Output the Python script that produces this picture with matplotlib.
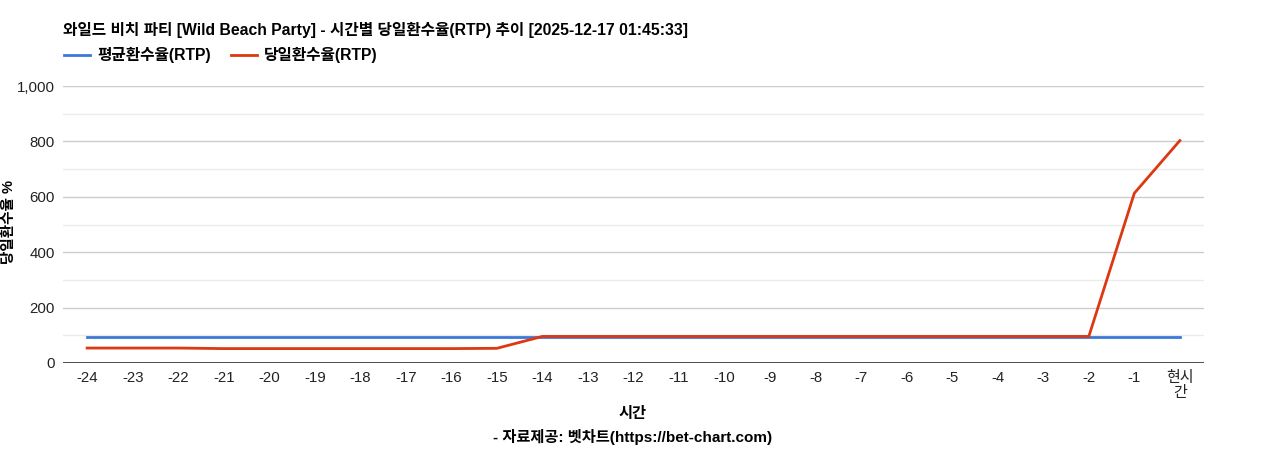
import numpy as np
import matplotlib.pyplot as plt
from matplotlib.ticker import FuncFormatter, MultipleLocator

plt.rcParams['font.family'] = ['Liberation Sans', 'Noto Sans CJK KR', 'DejaVu Sans']

hours = ['-24', '-23', '-22', '-21', '-20', '-19', '-18', '-17', '-16', '-15',
         '-14', '-13', '-12', '-11', '-10', '-9', '-8', '-7', '-6', '-5',
         '-4', '-3', '-2', '-1', '현시\n간']
avg_rtp = [95] * 25
day_rtp = [54, 54, 54, 52, 52, 52, 52, 52, 52, 53,
           96, 96, 96, 96, 96, 96, 96, 96, 96, 96,
           96, 96, 96, 613, 803]

title = '와일드 비치 파티 [Wild Beach Party] - 시간별 당일환수율(RTP) 추이 [2025-12-17 01:45:33]'

fig = plt.figure(figsize=(12.68, 4.5), dpi=100)
ax = fig.add_axes([63 / 1268, 87 / 450, (1204 - 63) / 1268, (363 - 86) / 450])

x = np.arange(len(hours))
ax.plot(x, avg_rtp, color='#3c78d8', lw=2, label='평균환수율(RTP)', zorder=3)
ax.plot(x, day_rtp, color='#dc3912', lw=2, label='당일환수율(RTP)', zorder=4)

ax.set_xlim(-0.53, 24.53)
ax.set_ylim(0, 1000)
ax.yaxis.set_major_locator(MultipleLocator(200))
ax.yaxis.set_minor_locator(MultipleLocator(100))
ax.yaxis.set_major_formatter(FuncFormatter(lambda v, p: f'{int(v):,}'))
ax.grid(axis='y', which='major', color='#cccccc', lw=1, zorder=0)
ax.grid(axis='y', which='minor', color='#ebebeb', lw=1, zorder=0)
ax.axhline(0, color='#333333', lw=1.2, zorder=5)

ax.set_xticks(x)
ax.set_xticklabels(hours, fontsize=10.8, color='#222222', linespacing=1.1)
ax.tick_params(axis='y', labelsize=10.8, labelcolor='#222222', length=0, pad=6)
ax.tick_params(axis='x', length=0, pad=6)
ax.tick_params(axis='y', which='minor', length=0)
for s in ax.spines.values():
    s.set_visible(False)

fig.text(9 / 1268, 1 - 222 / 450, '당일환수율 %', rotation=90, ha='center', va='center',
         fontsize=10.5, fontweight='bold')
fig.text(633 / 1268, 1 - 414 / 450, '시간', ha='center', va='center',
         fontsize=11, fontweight='bold')
fig.text(633 / 1268, 1 - 437 / 450, '- 자료제공: 벳차트(https://bet-chart.com)',
         ha='center', va='center', fontsize=11, fontweight='bold')

fig.text(63 / 1268, 1 - 30 / 450, title, ha='left', va='center',
         fontsize=11.3, fontweight='bold')
fig.legend(loc='center left', bbox_to_anchor=(50 / 1268, 1 - 55 / 450), ncol=2,
           frameon=False, handlelength=1.65, handletextpad=0.45, columnspacing=1.3,
           prop={'size': 11.3, 'weight': 'bold'})

fig.savefig('out.png', dpi=100)
